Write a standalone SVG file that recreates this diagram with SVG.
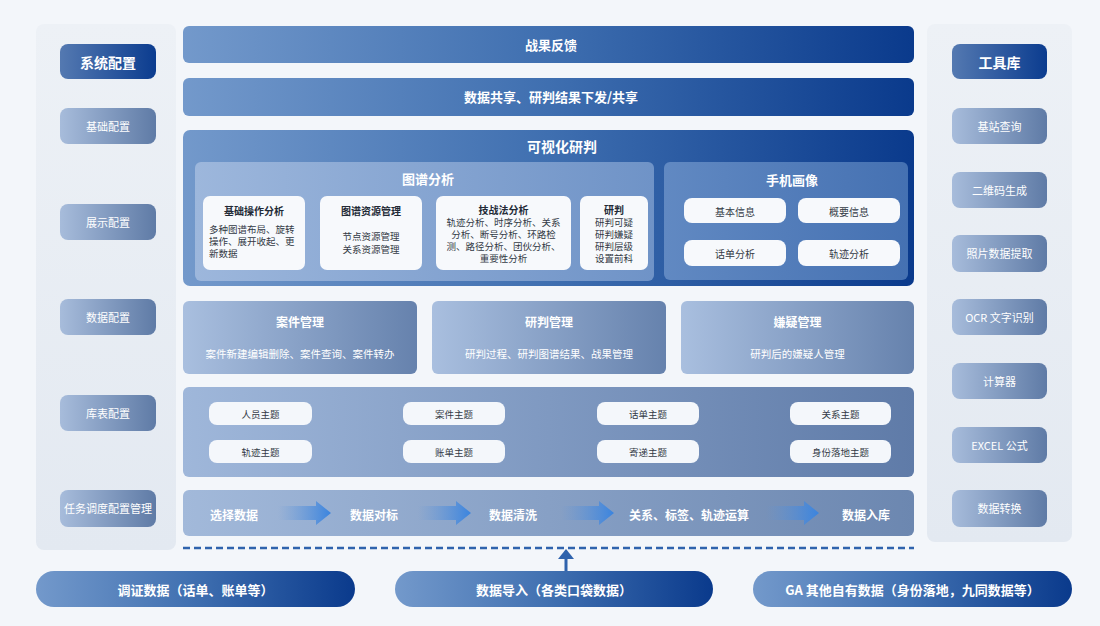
<svg xmlns="http://www.w3.org/2000/svg" width="1100" height="626" viewBox="0 0 1100 626">
<defs>
<linearGradient id="gDark" x1="0" y1="0" x2="1" y2="0"><stop offset="0" stop-color="#7399cb"/><stop offset="0.5" stop-color="#3f6fb0"/><stop offset="1" stop-color="#0a3a8c"/></linearGradient>
<linearGradient id="gHead" x1="0" y1="0" x2="1" y2="0"><stop offset="0" stop-color="#5479b1"/><stop offset="1" stop-color="#0b3c8f"/></linearGradient>
<linearGradient id="gSide" x1="0" y1="0" x2="1" y2="0"><stop offset="0" stop-color="#a7bcdb"/><stop offset="1" stop-color="#5f7ba6"/></linearGradient>
<linearGradient id="gMgmt" x1="0" y1="0" x2="1" y2="0"><stop offset="0" stop-color="#a9bfdf"/><stop offset="1" stop-color="#6682ad"/></linearGradient>
<linearGradient id="gTheme" x1="0" y1="0" x2="1" y2="0"><stop offset="0" stop-color="#9fb7da"/><stop offset="1" stop-color="#5f7ba8"/></linearGradient>
<linearGradient id="gPipe" x1="0" y1="0" x2="1" y2="0"><stop offset="0" stop-color="#a2b9da"/><stop offset="1" stop-color="#6c87b0"/></linearGradient>
<linearGradient id="gGraph" x1="0" y1="0" x2="1" y2="0"><stop offset="0" stop-color="#9db7dc"/><stop offset="1" stop-color="#6f93c7"/></linearGradient>
<linearGradient id="gPhone" x1="0" y1="0" x2="1" y2="0"><stop offset="0" stop-color="#6189c2"/><stop offset="1" stop-color="#4571b2"/></linearGradient>
<linearGradient id="gArrow" x1="0" y1="0" x2="1" y2="0"><stop offset="0" stop-color="#5d95dc" stop-opacity="0"/><stop offset="1" stop-color="#3a84df"/></linearGradient>
<linearGradient id="gPanel" x1="0" y1="0" x2="0" y2="1"><stop offset="0" stop-color="#edf1f6"/><stop offset="1" stop-color="#e3e9f1"/></linearGradient>
</defs>
<style>
text{font-family:"Noto Sans CJK SC","Noto Sans",sans-serif;text-anchor:middle;dominant-baseline:central}
.w{fill:#ffffff}
.wb{fill:#ffffff;font-weight:bold}
.d{fill:#333a45}
.db{fill:#222a36;font-weight:bold}
.card{fill:#f7f9fc}
.pill{fill:#f4f7fb}
</style>
<rect x="0" y="0" width="1100" height="626" fill="#f3f6fa"/>

<g id="left-panel">
<rect x="36" y="24" width="140" height="526" rx="8" fill="url(#gPanel)"/>
<rect x="60" y="44" width="96" height="35" rx="8" fill="url(#gHead)"/><text x="108" y="62" class="wb" font-size="14">系统配置</text>
<rect x="60" y="108" width="96" height="36" rx="8" fill="url(#gSide)"/><text x="108" y="126" class="w" font-size="11">基础配置</text>
<rect x="60" y="204" width="96" height="36" rx="8" fill="url(#gSide)"/><text x="108" y="222" class="w" font-size="11">展示配置</text>
<rect x="60" y="299" width="96" height="36" rx="8" fill="url(#gSide)"/><text x="108" y="317" class="w" font-size="11">数据配置</text>
<rect x="60" y="395" width="96" height="36" rx="8" fill="url(#gSide)"/><text x="108" y="413" class="w" font-size="11">库表配置</text>
<rect x="60" y="490" width="96" height="37" rx="8" fill="url(#gSide)"/><text x="108" y="508" class="w" font-size="11">任务调度配置管理</text>
</g>

<g id="right-panel">
<rect x="927" y="24" width="145" height="518" rx="8" fill="url(#gPanel)"/>
<rect x="952" y="44" width="95" height="35" rx="8" fill="url(#gHead)"/><text x="999.5" y="62" class="wb" font-size="14">工具库</text>
<rect x="952" y="108" width="95" height="36" rx="8" fill="url(#gSide)"/><text x="999.5" y="126" class="w" font-size="11">基站查询</text>
<rect x="952" y="172" width="95" height="36" rx="8" fill="url(#gSide)"/><text x="999.5" y="190" class="w" font-size="11">二维码生成</text>
<rect x="952" y="235" width="95" height="37" rx="8" fill="url(#gSide)"/><text x="999.5" y="253" class="w" font-size="11">照片数据提取</text>
<rect x="952" y="299" width="95" height="36" rx="8" fill="url(#gSide)"/><text x="999.5" y="317" class="w" font-size="11">OCR 文字识别</text>
<rect x="952" y="363" width="95" height="36" rx="8" fill="url(#gSide)"/><text x="999.5" y="381" class="w" font-size="11">计算器</text>
<rect x="952" y="427" width="95" height="36" rx="8" fill="url(#gSide)"/><text x="999.5" y="445" class="w" font-size="11">EXCEL 公式</text>
<rect x="952" y="490" width="95" height="37" rx="8" fill="url(#gSide)"/><text x="999.5" y="508" class="w" font-size="11">数据转换</text>
</g>

<g id="feedback">
<rect x="183" y="26" width="731" height="37" rx="6" fill="url(#gDark)"/><text x="551" y="44" class="wb" font-size="13">战果反馈</text>
</g>
<g id="share">
<rect x="183" y="78" width="731" height="38" rx="6" fill="url(#gDark)"/><text x="551" y="96" class="wb" font-size="13">数据共享、研判结果下发/共享</text>
</g>

<g id="visual">
<rect x="183" y="130" width="731" height="156" rx="7" fill="url(#gDark)"/>
<text x="562" y="146" class="wb" font-size="14">可视化研判</text>
</g>
<g id="graph-analysis">
<rect x="195" y="162" width="459" height="119" rx="6" fill="url(#gGraph)"/>
<text x="428" y="178" class="wb" font-size="13">图谱分析</text>
<rect x="203" y="196" width="102" height="74" rx="7" class="card"/>
<text x="254" y="210" class="db" font-size="10">基础操作分析</text>
<text x="209" y="229" class="d" font-size="9.5" style="text-anchor:start">多种图谱布局、旋转</text>
<text x="209" y="241" class="d" font-size="9.5" style="text-anchor:start">操作、展开收起、更</text>
<text x="209" y="253" class="d" font-size="9.5" style="text-anchor:start">新数据</text>
<rect x="320" y="196" width="102" height="74" rx="7" class="card"/>
<text x="371" y="210" class="db" font-size="10">图谱资源管理</text>
<text x="371" y="236" class="d" font-size="9.5">节点资源管理</text>
<text x="371" y="249" class="d" font-size="9.5">关系资源管理</text>
<rect x="436" y="196" width="135" height="74" rx="7" class="card"/>
<text x="503.5" y="209" class="db" font-size="10">技战法分析</text>
<text x="503.5" y="222" class="d" font-size="9.5">轨迹分析、时序分析、关系</text>
<text x="503.5" y="234" class="d" font-size="9.5">分析、断号分析、环路检</text>
<text x="503.5" y="246" class="d" font-size="9.5">测、路径分析、团伙分析、</text>
<text x="503.5" y="258" class="d" font-size="9.5">重要性分析</text>
<rect x="580" y="196" width="68" height="74" rx="7" class="card"/>
<text x="614" y="209" class="db" font-size="10">研判</text>
<text x="614" y="222" class="d" font-size="9.5">研判可疑</text>
<text x="614" y="234" class="d" font-size="9.5">研判嫌疑</text>
<text x="614" y="246" class="d" font-size="9.5">研判层级</text>
<text x="614" y="258" class="d" font-size="9.5">设置前科</text>
</g>
<g id="phone-profile">
<rect x="664" y="162" width="244" height="118" rx="6" fill="url(#gPhone)"/>
<text x="792" y="179" class="wb" font-size="13">手机画像</text>
<rect x="684" y="198" width="102" height="25" rx="8" class="card"/><text x="735" y="211" class="d" font-size="10">基本信息</text>
<rect x="798" y="198" width="102" height="25" rx="8" class="card"/><text x="849" y="211" class="d" font-size="10">概要信息</text>
<rect x="684" y="240" width="102" height="26" rx="8" class="card"/><text x="735" y="253" class="d" font-size="10">话单分析</text>
<rect x="798" y="240" width="102" height="26" rx="8" class="card"/><text x="849" y="253" class="d" font-size="10">轨迹分析</text>
</g>

<g id="case-mgmt">
<rect x="183" y="301" width="234" height="73" rx="6" fill="url(#gMgmt)"/>
<text x="300" y="321" class="wb" font-size="12">案件管理</text>
<text x="300" y="353" class="w" font-size="10.5">案件新建编辑删除、案件查询、案件转办</text>
</g>
<g id="judge-mgmt">
<rect x="432" y="301" width="234" height="73" rx="6" fill="url(#gMgmt)"/>
<text x="549" y="321" class="wb" font-size="12">研判管理</text>
<text x="549" y="353" class="w" font-size="10.5">研判过程、研判图谱结果、战果管理</text>
</g>
<g id="suspect-mgmt">
<rect x="681" y="301" width="233" height="73" rx="6" fill="url(#gMgmt)"/>
<text x="797.5" y="321" class="wb" font-size="12">嫌疑管理</text>
<text x="797.5" y="353" class="w" font-size="10.5">研判后的嫌疑人管理</text>
</g>

<g id="themes">
<rect x="183" y="387" width="731" height="90" rx="6" fill="url(#gTheme)"/>
<rect x="209" y="402" width="103" height="23" rx="8" class="pill"/><text x="260.5" y="414" class="d" font-size="9.5">人员主题</text>
<rect x="403" y="402" width="102" height="23" rx="8" class="pill"/><text x="454" y="414" class="d" font-size="9.5">案件主题</text>
<rect x="597" y="402" width="102" height="23" rx="8" class="pill"/><text x="648" y="414" class="d" font-size="9.5">话单主题</text>
<rect x="790" y="402" width="101" height="23" rx="8" class="pill"/><text x="840.5" y="414" class="d" font-size="9.5">关系主题</text>
<rect x="209" y="440" width="103" height="23" rx="8" class="pill"/><text x="260.5" y="452" class="d" font-size="9.5">轨迹主题</text>
<rect x="403" y="440" width="102" height="23" rx="8" class="pill"/><text x="454" y="452" class="d" font-size="9.5">账单主题</text>
<rect x="597" y="440" width="102" height="23" rx="8" class="pill"/><text x="648" y="452" class="d" font-size="9.5">寄递主题</text>
<rect x="790" y="440" width="101" height="23" rx="8" class="pill"/><text x="840.5" y="452" class="d" font-size="9.5">身份落地主题</text>
</g>

<g id="pipeline">
<rect x="183" y="490" width="731" height="46" rx="6" fill="url(#gPipe)"/>
<text x="234" y="514" class="wb" font-size="12">选择数据</text>
<text x="374" y="514" class="wb" font-size="12">数据对标</text>
<text x="513" y="514" class="wb" font-size="12">数据清洗</text>
<text x="689" y="514" class="wb" font-size="12">关系、标签、轨迹运算</text>
<text x="866" y="514" class="wb" font-size="12">数据入库</text>
</g>

<g id="connectors">
<polygon points="278,506 316,506 316,501 331,513 316,525 316,520 278,520" fill="url(#gArrow)"/>
<polygon points="418,506 456,506 456,501 471,513 456,525 456,520 418,520" fill="url(#gArrow)"/>
<polygon points="561,506 599,506 599,501 614,513 599,525 599,520 561,520" fill="url(#gArrow)"/>
<polygon points="766,506 804,506 804,501 819,513 804,525 804,520 766,520" fill="url(#gArrow)"/>
<line x1="183" y1="548" x2="914" y2="548" stroke="#2f63ad" stroke-width="2.5" stroke-dasharray="7,4"/>
<line x1="566" y1="571" x2="566" y2="557" stroke="#2f63ad" stroke-width="3"/>
<polygon points="558,559 566,549 574,559" fill="#2f63ad"/>
</g>

<g id="src-1">
<rect x="36" y="571" width="319" height="36" rx="18" fill="url(#gDark)"/>
<text x="195.5" y="589" class="wb" font-size="13">调证数据（话单、账单等）</text>
</g>
<g id="src-2">
<rect x="395" y="571" width="318" height="36" rx="18" fill="url(#gDark)"/>
<text x="554" y="589" class="wb" font-size="13">数据导入（各类口袋数据）</text>
</g>
<g id="src-3">
<rect x="753" y="571" width="319" height="36" rx="18" fill="url(#gDark)"/>
<text x="912.5" y="589" class="wb" font-size="13">GA 其他自有数据（身份落地，九同数据等）</text>
</g>
</svg>
